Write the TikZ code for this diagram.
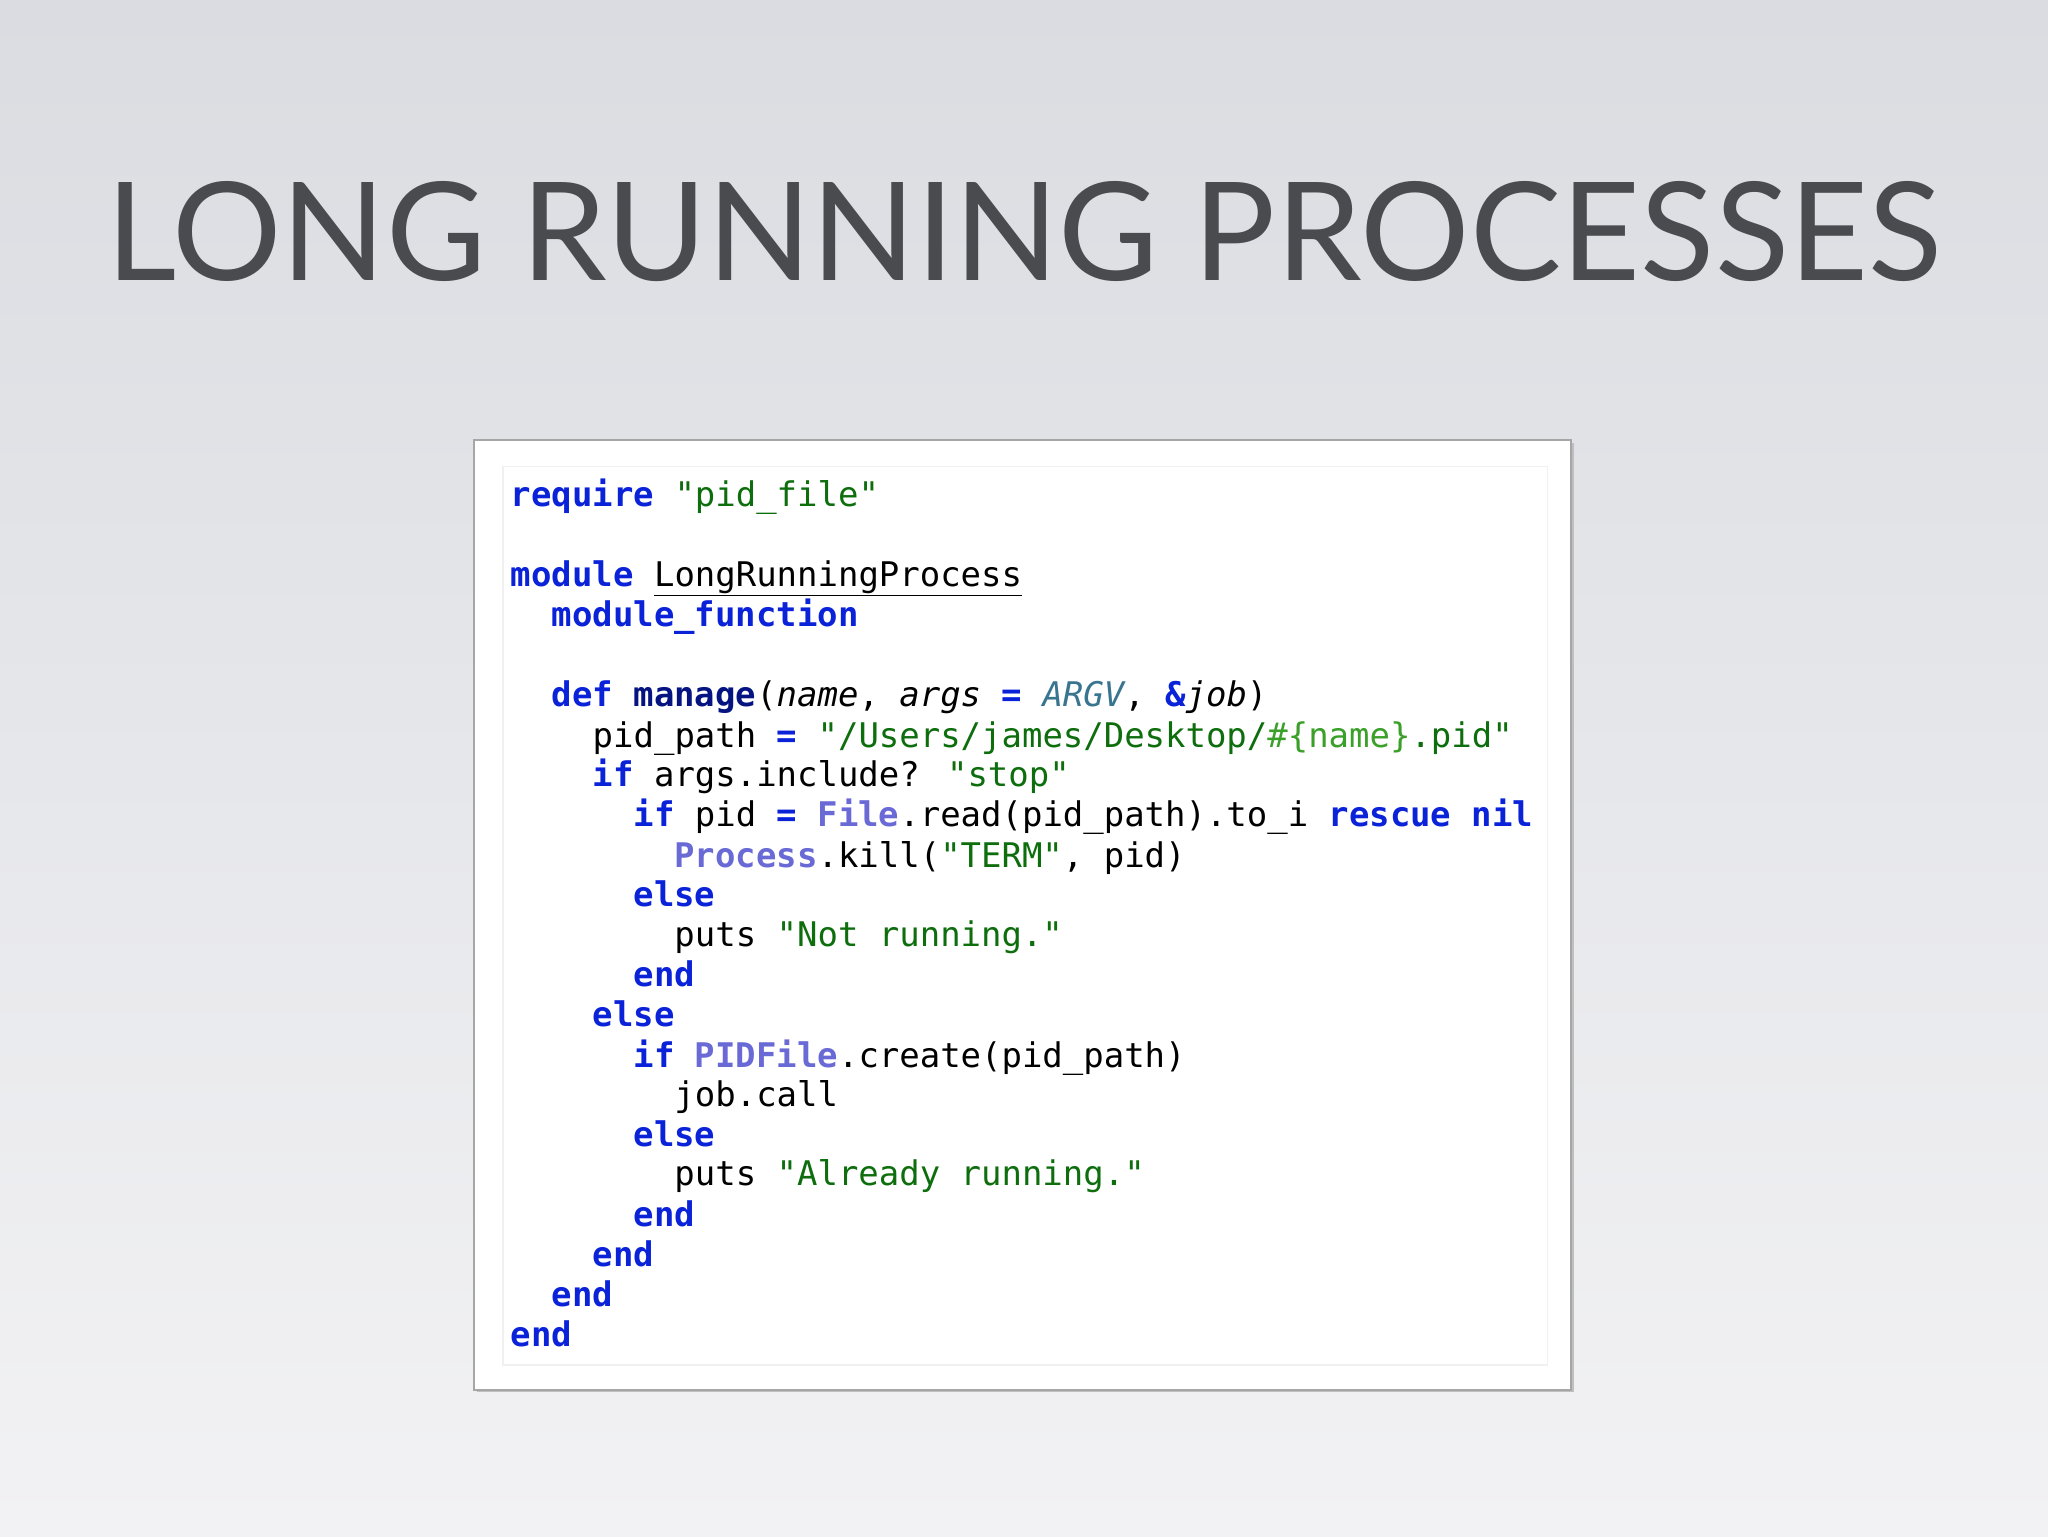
\documentclass[tikz,border=0pt]{standalone}
\usepackage{fontspec}
\setmainfont{Lato}
\newfontfamily\codefont{DejaVu Sans Mono}[Scale=1]
\definecolor{kw}{HTML}{0A22D8}
\definecolor{str}{HTML}{0E6E0E}
\definecolor{interp}{HTML}{3AA02A}
\definecolor{cst}{HTML}{6A6AD6}
\definecolor{argv}{HTML}{3A7590}
\definecolor{titlec}{HTML}{4A4B4F}
\newcommand{\K}[1]{{\bfseries\color{kw}#1}}
\newcommand{\St}[1]{{\color{str}#1}}
\newcommand{\C}[1]{{\bfseries\color{cst}#1}}
\tikzset{codeline/.style={anchor=base west,inner sep=0pt,font=\codefont\fontsize{26}{30}\selectfont}}
\begin{document}
\begin{tikzpicture}[x=1pt,y=-1pt]
\useasboundingbox (0,0) rectangle (1568,1176);
\shade[top color={rgb,255:red,218;green,220;blue,225},bottom color={rgb,255:red,242;green,242;blue,244}] (0,0) rectangle (1568,1176);
\node[anchor=base,inner sep=0pt,text=titlec] (title) at (784,215) {\resizebox{1405pt}{!}{\fontsize{107}{110}\selectfont LONG RUNNING PROCESSES}};
\fill[black!25] (365,339) rectangle (1205,1066);
\draw[fill=white,draw=black!35,line width=1.5] (363,337) rectangle (1203,1064);
\draw[draw=black!6,line width=1] (385,357) rectangle (1185,1045);
\def\cx#1{391+15.65*#1}
\node[codeline] (l0) at (391,388) {\K{require} \St{"pid\_file"}};
\node[codeline] (l2) at (391,449) {\K{module} \underline{LongRunningProcess}};
\node[codeline] (l3) at ({\cx2},480) {\K{module\_function}};
\node[codeline] (l5) at ({\cx2},541) {\K{def} {\bfseries\color{kw!60!black}manage}(\textit{name}, \textit{args} \K{=} {\itshape\color{argv}ARGV}, \K{\&}\textit{job})};
\node[codeline] (l6) at ({\cx4},572) {pid\_path \K{=} \St{"/Users/james/Desktop/}{\color{interp}\#\{name\}}\St{.pid"}};
\node[codeline] (l7) at ({\cx4},602) {\K{if} args.include? \St{"stop"}};
\node[codeline] (l8) at ({\cx6},633) {\K{if} pid \K{=} \C{File}.read(pid\_path).to\_i \K{rescue} \K{nil}};
\node[codeline] (l9) at ({\cx8},664) {\C{Process}.kill(\St{"TERM"}, pid)};
\node[codeline] (l10) at ({\cx6},694) {\K{else}};
\node[codeline] (l11) at ({\cx8},725) {puts \St{"Not running."}};
\node[codeline] (l12) at ({\cx6},755) {\K{end}};
\node[codeline] (l13) at ({\cx4},786) {\K{else}};
\node[codeline] (l14) at ({\cx6},817) {\K{if} \C{PIDFile}.create(pid\_path)};
\node[codeline] (l15) at ({\cx8},847) {job.call};
\node[codeline] (l16) at ({\cx6},878) {\K{else}};
\node[codeline] (l17) at ({\cx8},908) {puts \St{"Already running."}};
\node[codeline] (l18) at ({\cx6},939) {\K{end}};
\node[codeline] (l19) at ({\cx4},970) {\K{end}};
\node[codeline] (l20) at ({\cx2},1000) {\K{end}};
\node[codeline] (l21) at (391,1031) {\K{end}};
\end{tikzpicture}
\end{document}
